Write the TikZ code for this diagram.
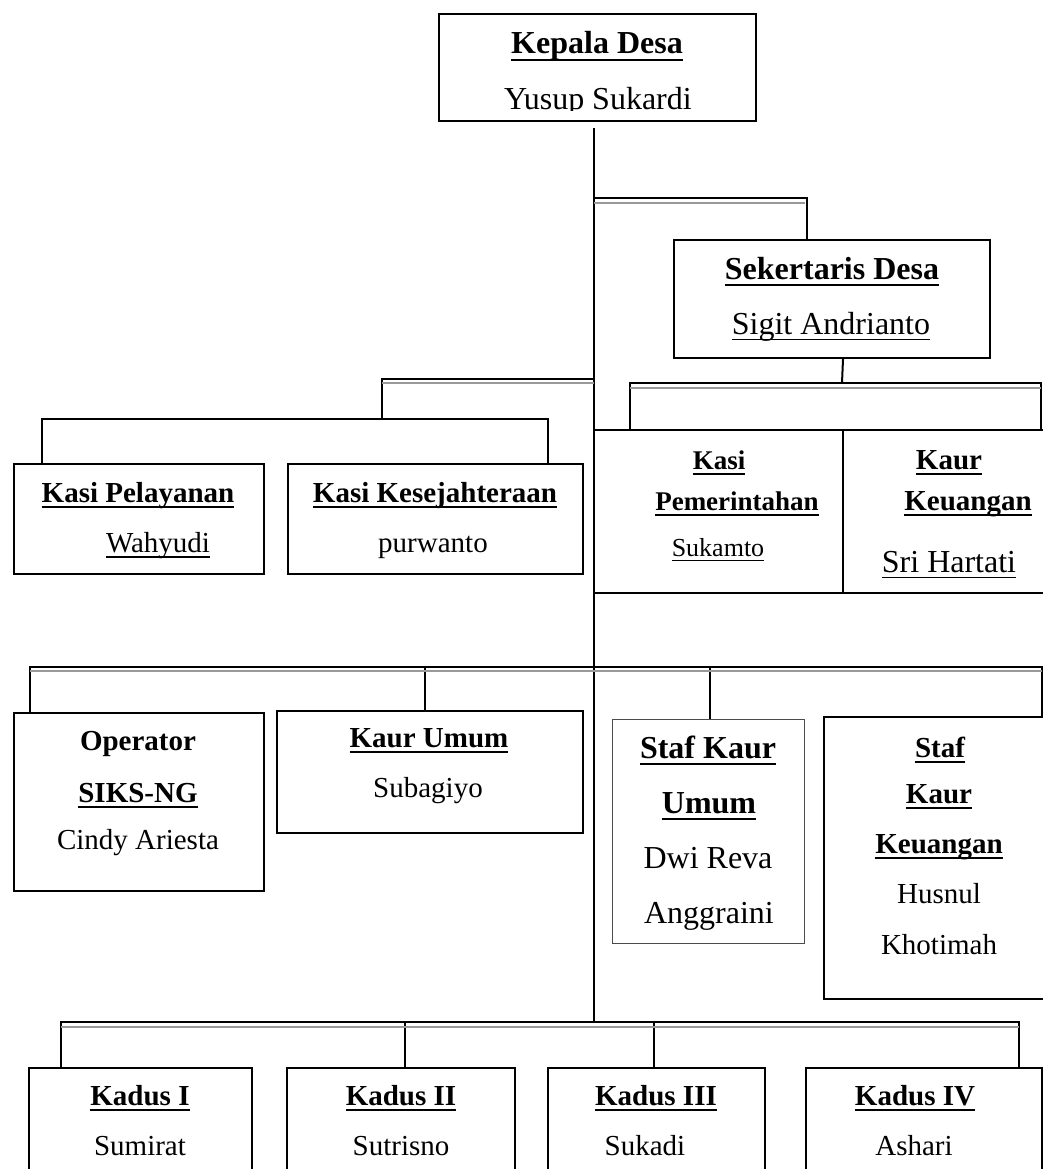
\documentclass[tikz,border=0pt]{standalone}
\usepackage{fontspec}
\setmainfont{Liberation Serif}
\usetikzlibrary{calc}
\newcommand\ulb[1]{\sbox0{#1}\rlap{\rule[-0.22em]{\wd0}{0.07em}}\usebox0}
\newcommand\ulr[1]{\sbox0{#1}\rlap{\rule[-0.2em]{\wd0}{0.05em}}\usebox0}
\begin{document}
\begin{tikzpicture}[x=1pt,y=-1pt,
  box/.style={draw=black, line width=2pt, inner sep=0pt, anchor=north west},
  thinbox/.style={draw=black!70, line width=1.3pt, inner sep=0pt, anchor=north west},
  conn/.style={draw=black, line width=2pt},
  shade/.style={draw=black!40, line width=2pt},
  txt/.style={anchor=base, inner sep=0pt},
  fa/.style={font=\fontsize{32}{38}\selectfont},
  fb/.style={font=\fontsize{29}{35}\selectfont},
  fc/.style={font=\fontsize{27}{32}\selectfont},
  fd/.style={font=\fontsize{26}{31}\selectfont}]
\useasboundingbox (0,0) rectangle (1043,1169);
\fill[white] (0,0) rectangle (1043,1169);

% boxes
\node[box, minimum width=317pt, minimum height=107pt] (kepala) at (438,13) {};
\node[box, minimum width=316pt, minimum height=118pt] (sek) at (673,239) {};
\node[box, minimum width=250pt, minimum height=110pt] (pel) at (13,463) {};
\node[box, minimum width=295pt, minimum height=110pt] (kes) at (287,463) {};
\node[box, minimum width=249pt, minimum height=163pt] (pem) at (593,429) {};
\node[box, minimum width=205pt, minimum height=163pt] (keu) at (842,429) {};
\node[box, minimum width=250pt, minimum height=178pt] (op) at (13,712) {};
\node[box, minimum width=306pt, minimum height=122pt] (umum) at (276,710) {};
\node[thinbox, minimum width=192pt, minimum height=224pt] (skum) at (612,719) {};
\node[box, minimum width=224pt, minimum height=282pt] (skeu) at (823,716) {};
\node[box, minimum width=223pt, minimum height=110pt] (kd1) at (28,1067) {};
\node[box, minimum width=228pt, minimum height=110pt] (kd2) at (286,1067) {};
\node[box, minimum width=217pt, minimum height=110pt] (kd3) at (547,1067) {};
\node[box, minimum width=236pt, minimum height=110pt] (kd4) at (805,1067) {};

% main trunk
\coordinate (mtop) at (594,128);
\coordinate (j6) at (594,1022);
\draw[conn] (mtop) -- (j6);

% sekretaris branch
\coordinate (j1) at (594,198);
\draw[conn] (j1) -| ([xshift=-25pt]sek.north);
\draw[shade] ($(j1)+(0,5)$) -- ($(j1)+(211,5)$);

% sekretaris -> pemerintahan / keuangan
\coordinate (j2) at (842,383);
\coordinate (cpem) at ([xshift=-88.5pt]pem.north);
\coordinate (ckeu) at ([xshift=95.5pt]keu.north);
\draw[conn] ([xshift=11pt]sek.south) -- (j2);
\draw[conn] (cpem) |- (j2) -| (ckeu);
\draw[shade] ($(cpem |- j2)+(0,5)$) -- ($(ckeu |- j2)+(0,5)$);

% left kasi branch
\coordinate (j3) at (594,379);
\coordinate (j4) at (382,419);
\coordinate (cpel) at ([xshift=-97pt]pel.north);
\coordinate (ckes) at ([xshift=112.5pt]kes.north);
\draw[conn] (j3) -| (j4);
\draw[shade] ($(j3)+(0,4)$) -- ($(j4 |- j3)+(0,4)$);
\draw[conn, line width=1.5pt] (cpel) |- (j4) -| (ckes);

% third row
\coordinate (j5) at (594,667);
\coordinate (cop) at ([xshift=-109pt]op.north);
\coordinate (cumum) at ([xshift=-5pt]umum.north);
\coordinate (cskum) at ([xshift=1pt]skum.north);
\coordinate (cskeu) at ([xshift=106pt]skeu.north);
\draw[conn] (cop) |- (cskeu |- j5) -- (cskeu);
\draw[conn] (cumum) -- (cumum |- j5);
\draw[conn] (cskum) -- (cskum |- j5);
\draw[shade] ($(cop |- j5)+(0,4)$) -- ($(cskeu |- j5)+(0,4)$);

% kadus row
\coordinate (ck1) at ([xshift=-79.5pt]kd1.north);
\coordinate (ck2) at ([xshift=4pt]kd2.north);
\coordinate (ck3) at ([xshift=-2.5pt]kd3.north);
\coordinate (ck4) at ([xshift=95pt]kd4.north);
\draw[conn] (ck1) |- (ck4 |- j6) -- (ck4);
\draw[conn] (ck2) -- (ck2 |- j6);
\draw[conn] (ck3) -- (ck3 |- j6);
\draw[shade] ($(ck1 |- j6)+(0,5)$) -- ($(ck4 |- j6)+(0,5)$);

% texts
\node[txt, fa] (tkep1) at (597,54) {\bfseries\ulb{Kepala Desa}};
\begin{scope}
\clip (440,60) rectangle (753,111);
\node[txt, fa] (tkep2) at (598,110) {Yusup Sukardi};
\end{scope}

\node[txt, fa] (tsek1) at (832,279) {\bfseries\ulb{Sekertaris Desa}};
\node[txt, fa] (tsek2) at (831,334) {\ulr{Sigit Andrianto}};

\node[txt, fb] (tpel1) at (138,502) {\bfseries\ulb{Kasi Pelayanan}};
\node[txt, fb] (tpel2) at (158,552) {\ulr{Wahyudi}};
\node[txt, fb] (tkes1) at (435,502) {\bfseries\ulb{Kasi Kesejahteraan}};
\node[txt, fb] (tkes2) at (433,552) {purwanto};

\node[txt, fc] (tpem1) at (719,469) {\bfseries\ulb{Kasi}};
\node[txt, fc] (tpem2) at (737,510) {\bfseries\ulb{Pemerintahan}};
\node[txt, fd] (tpem3) at (718,556) {\ulr{Sukamto}};
\node[txt, fb] (tkeu1) at (949,469) {\bfseries\ulb{Kaur}};
\node[txt, fb] (tkeu2) at (968,510) {\bfseries\ulb{Keuangan}};
\node[txt, fa] (tkeu3) at (949,572) {\ulr{Sri Hartati}};

\node[txt, fb] (top1) at (138,750) {\bfseries Operator};
\node[txt, fb] (top2) at (138,802) {\bfseries\ulb{SIKS-NG}};
\node[txt, fb] (top3) at (138,849) {Cindy Ariesta};
\node[txt, fb] (tum1) at (429,747) {\bfseries\ulb{Kaur Umum}};
\node[txt, fb] (tum2) at (428,797) {Subagiyo};

\node[txt, fa] (tsku1) at (708,758) {\bfseries\ulb{Staf Kaur}};
\node[txt, fa] (tsku2) at (709,813) {\bfseries\ulb{Umum}};
\node[txt, fa] (tsku3) at (708,868) {Dwi Reva};
\node[txt, fa] (tsku4) at (709,923) {Anggraini};

\node[txt, fb] (tske1) at (940,757) {\bfseries\ulb{Staf}};
\node[txt, fb] (tske2) at (939,803) {\bfseries\ulb{Kaur}};
\node[txt, fb] (tske3) at (939,853) {\bfseries\ulb{Keuangan}};
\node[txt, fb] (tske4) at (939,903) {Husnul};
\node[txt, fb] (tske5) at (939,954) {Khotimah};

\node[txt, fb] (tk11) at (140,1105) {\bfseries\ulb{Kadus I}};
\node[txt, fb] (tk12) at (140,1155) {Sumirat};
\node[txt, fb] (tk21) at (401,1105) {\bfseries\ulb{Kadus II}};
\node[txt, fb] (tk22) at (401,1155) {Sutrisno};
\node[txt, fb] (tk31) at (656,1105) {\bfseries\ulb{Kadus III}};
\node[txt, fb] (tk32) at (645,1155) {Sukadi};
\node[txt, fb] (tk41) at (915,1105) {\bfseries\ulb{Kadus IV}};
\node[txt, fb] (tk42) at (914,1155) {Ashari};
\end{tikzpicture}
\end{document}
